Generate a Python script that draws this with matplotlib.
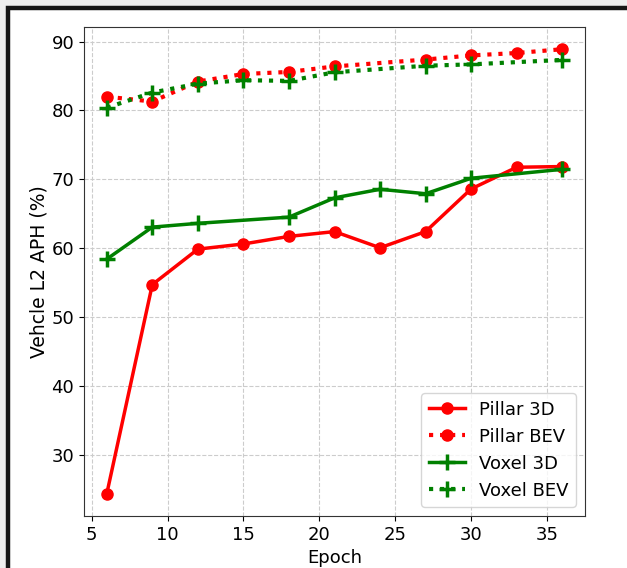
import matplotlib
matplotlib.use("Agg")
import matplotlib.pyplot as plt
from matplotlib.patches import Rectangle

epochs_pillar_3d = [6, 9, 12, 15, 18, 21, 24, 27, 30, 33, 36]
pillar_3d = [24.3, 54.7, 59.85, 60.6, 61.7, 62.4, 60.05, 62.4, 68.6, 71.75, 71.85]

epochs_pillar_bev = [6, 9, 12, 15, 18, 21, 27, 30, 33, 36]
pillar_bev = [82.0, 81.3, 84.2, 85.3, 85.6, 86.4, 87.4, 88.0, 88.35, 88.9]

epochs_voxel_3d = [6, 9, 12, 18, 21, 24, 27, 30, 36]
voxel_3d = [58.4, 63.05, 63.6, 64.5, 67.3, 68.55, 67.9, 70.15, 71.45]

epochs_voxel_bev = [6, 9, 12, 15, 18, 21, 27, 30, 36]
voxel_bev = [80.4, 82.6, 83.9, 84.4, 84.3, 85.55, 86.5, 86.7, 87.35]

W, H = 627, 568
fig = plt.figure(figsize=(W / 100, H / 100), dpi=100)
fig.patch.set_facecolor("#eeeeee")

# white panel with black frame (cropped at right/bottom)
fig.patches.append(Rectangle((8 / W, -0.05), 1.1, 1 - 7.5 / H + 0.05, transform=fig.transFigure,
                             facecolor="white", edgecolor="#161616", linewidth=3.2, zorder=-10))

ax = fig.add_axes([84 / W, 1 - 516 / H, (585 - 84) / W, (516 - 27) / H])

ax.plot(epochs_pillar_3d, pillar_3d, color="red", linestyle="-", linewidth=2.5,
        marker="o", markersize=8, label="Pillar 3D")
ax.plot(epochs_pillar_bev, pillar_bev, color="red", linestyle=":", linewidth=3,
        marker="o", markersize=8, label="Pillar BEV")
ax.plot(epochs_voxel_3d, voxel_3d, color="green", linestyle="-", linewidth=2.5,
        marker="+", markersize=12, markeredgewidth=2.5, label="Voxel 3D")
ax.plot(epochs_voxel_bev, voxel_bev, color="green", linestyle=":", linewidth=3,
        marker="+", markersize=12, markeredgewidth=2.5, label="Voxel BEV")

ax.grid(True, linestyle="--", color="#cccccc", linewidth=0.8)
ax.set_xticks([5, 10, 15, 20, 25, 30, 35])
ax.set_yticks([30, 40, 50, 60, 70, 80, 90])
ax.tick_params(labelsize=13)
ax.set_xlabel("Epoch", fontsize=13)
ax.set_ylabel("Vehcle L2 APH (%)", fontsize=13.5, labelpad=2)
for s in ax.spines.values():
    s.set_color("#333333")
ax.legend(loc="lower right", fontsize=13)

fig.savefig("out.png", dpi=100, facecolor=fig.get_facecolor())
